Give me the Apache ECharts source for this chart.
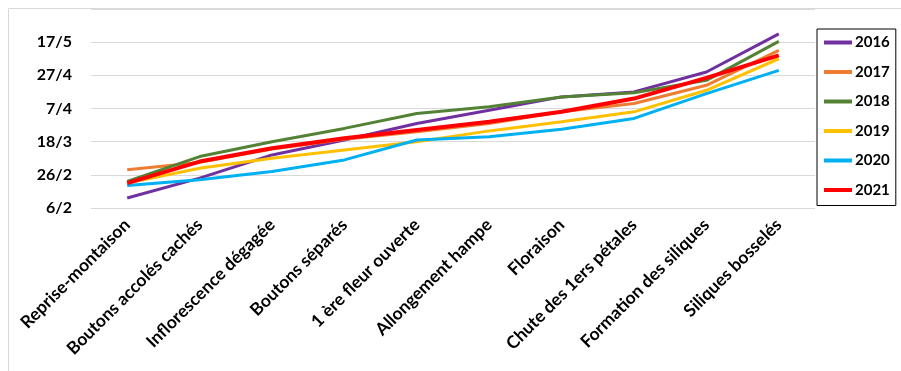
<!DOCTYPE html>
<html>
<head>
<meta charset="utf-8">
<script src="https://cdn.jsdelivr.net/npm/echarts@6/dist/echarts.min.js"></script>
<style>
html,body{margin:0;padding:0;background:#fff;}
#chart{width:901px;height:371px;}
</style>
</head>
<body>
<div id="chart"></div>
<script>
// Stages (x categories)
const categories = ['Reprise-montaison', 'Boutons accolés cachés', 'Inflorescence dégagée', 'Boutons séparés', '1 ère fleur ouverte', 'Allongement hampe', 'Floraison', 'Chute des 1ers pétales', 'Formation des siliques', 'Siliques bosselés'];
// Values: days counted from 6 February
const y2016 = [6, 18, 32, 41, 51, 59, 67, 70, 82, 105];
const y2017 = [23, 27.5, 35.5, 41.5, 46, 51, 58, 63, 74, 95];
const y2018 = [16, 31, 40, 48, 57, 61, 67, 69.5, 77, 100.5];
const y2019 = [15, 24, 30, 35, 40, 46.5, 52, 58, 71, 90];
const y2020 = [13.5, 17, 22, 29, 41, 43, 47.5, 54, 69, 83];
const y2021 = [15, 28, 36, 42, 47, 52, 58, 66, 78.5, 92];
const seriesNames = ['2016', '2017', '2018', '2019', '2020', '2021'];
// Tick labels every 20 days starting 6/2
const tickLabels = ['6/2', '26/2', '18/3', '7/4', '27/4', '17/5', ''];

const colors = ['#7030A0', '#ED7D31', '#548235', '#FFC000', '#00B0F0', '#FF0000'];
const widths = [3, 3, 3, 3, 3, 4];
const dataSets = [y2016, y2017, y2018, y2019, y2020, y2021];
const font = 'Lato, "Open Sans", sans-serif';

const chart = echarts.init(document.getElementById('chart'), null, {renderer: 'canvas'});
chart.setOption({
  animation: false,
  backgroundColor: '#fff',
  color: colors,
  graphic: [{
    type: 'rect', silent: true,
    shape: {x: 8.5, y: 8.5, width: 900, height: 370},
    style: {fill: 'none', stroke: '#D9D9D9', lineWidth: 1}
  }],
  grid: {left: 91, right: 86, top: 9, bottom: 163, containLabel: false},
  legend: {
    orient: 'vertical',
    left: 817, top: 29,
    itemWidth: 28, itemHeight: 14, itemGap: 14.5,
    padding: [6, 6, 8, 5],
    borderColor: '#000', borderWidth: 1,
    itemStyle: {opacity: 0},
    lineStyle: {width: 4},
    textStyle: {fontFamily: font, fontWeight: 'bold', fontSize: 15, color: '#000', padding: [0, 0, 0, -2]},
    data: seriesNames
  },
  xAxis: {
    type: 'category',
    data: categories,
    boundaryGap: true,
    axisLine: {show: false},
    axisTick: {show: false},
    axisLabel: {rotate: 45, interval: 0, margin: 14, fontFamily: font, fontWeight: 'bold', fontSize: 17.5, color: '#000'}
  },
  yAxis: {
    type: 'value',
    min: 0, max: 120, interval: 20,
    axisLine: {show: false},
    axisTick: {show: false},
    splitLine: {lineStyle: {color: '#D9D9D9', width: 1}},
    axisLabel: {
      margin: 19, fontFamily: font, fontWeight: 'bold', fontSize: 16, color: '#000',
      formatter: v => tickLabels[Math.round(v / 20)] || ''
    }
  },
  series: seriesNames.map((n, i) => ({
    name: n, type: 'line', data: dataSets[i],
    symbol: 'none', smooth: false,
    lineStyle: {color: colors[i], width: widths[i]},
    itemStyle: {color: colors[i]}
  }))
});
</script>
</body>
</html>
